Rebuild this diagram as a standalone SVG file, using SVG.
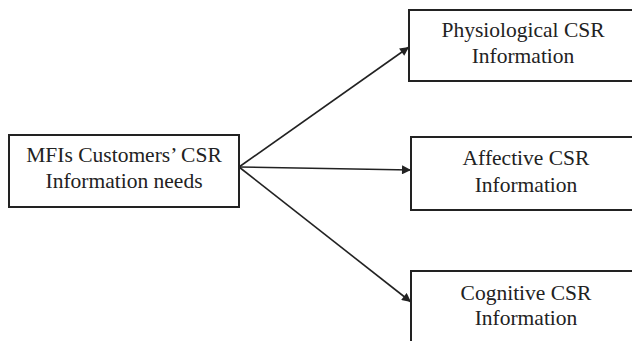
<svg xmlns="http://www.w3.org/2000/svg" width="632" height="341" viewBox="0 0 632 341">
<defs>
<style>
.box{fill:#fff;stroke:#222;stroke-width:2}
.t{font-family:"Liberation Serif","Times New Roman",serif;font-size:21.5px;fill:#222;text-anchor:middle}
.c{stroke:#222;stroke-width:1.6;fill:none;marker-end:url(#ah)}
</style>
<marker id="ah" viewBox="0 0 10 10" refX="10" refY="5" markerWidth="10" markerHeight="9" markerUnits="userSpaceOnUse" orient="auto">
<path d="M0,0 L10,5 L0,10 Z" fill="#222"/>
</marker>
</defs>
<rect width="632" height="341" fill="#fff"/>
<g id="connectors">
<line class="c" x1="239" y1="167" x2="409" y2="47"/>
<line class="c" x1="239" y1="167" x2="411" y2="170"/>
<line class="c" x1="239" y1="167" x2="411" y2="302"/>
</g>
<g id="n0">
<rect class="box" x="9" y="135" width="230" height="72"/>
<text class="t" x="124" y="162">MFIs Customers’ CSR</text>
<text class="t" x="124" y="188">Information needs</text>
</g>
<g id="n1">
<rect class="box" x="409" y="10" width="230" height="71"/>
<text class="t" x="523" y="37">Physiological CSR</text>
<text class="t" x="523" y="63">Information</text>
</g>
<g id="n2">
<rect class="box" x="411" y="137" width="230" height="73"/>
<text class="t" x="526" y="165">Affective CSR</text>
<text class="t" x="526" y="192">Information</text>
</g>
<g id="n3">
<rect class="box" x="411" y="271" width="230" height="80"/>
<text class="t" x="526" y="300">Cognitive CSR</text>
<text class="t" x="526" y="325">Information</text>
</g>
</svg>
